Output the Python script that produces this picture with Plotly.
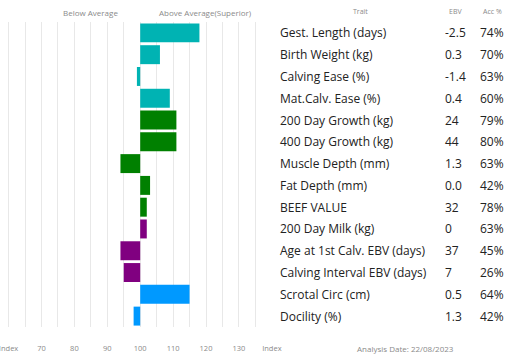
import plotly.graph_objects as go

traits = ["Gest. Length (days)", "Birth Weight (kg)", "Calving Ease (%)", "Mat.Calv. Ease (%)",
          "200 Day Growth (kg)", "400 Day Growth (kg)", "Muscle Depth (mm)", "Fat Depth (mm)",
          "BEEF VALUE", "200 Day Milk (kg)", "Age at 1st Calv. EBV (days)",
          "Calving Interval EBV (days)", "Scrotal Circ (cm)", "Docility (%)"]
ebv = ["-2.5", "0.3", "-1.4", "0.4", "24", "44", "1.3", "0.0", "32", "0", "37", "7", "0.5", "1.3"]
acc = ["74%", "70%", "63%", "60%", "79%", "80%", "63%", "42%", "78%", "63%", "45%", "26%", "64%", "42%"]
index_values = [118, 106, 99, 109, 111, 111, 94, 103, 102, 102, 94, 95, 115, 98]
bar_colors = ["#00B3B3"] * 4 + ["#008000"] * 5 + ["#800080"] * 3 + ["#0099FF"] * 2
tick_vals = list(range(60, 141, 5))
tick_text = ["Index" if v in (60, 140) else (str(v) if v % 10 == 0 else "") for v in tick_vals]

W, H = 528, 362
T, B = 22, 35
fig = go.Figure()
fig.add_trace(go.Bar(
    y=traits, x=[v - 100 for v in index_values], base=100, orientation="h",
    marker=dict(color=bar_colors, line=dict(width=0)), hoverinfo="skip"))

fig.update_layout(
    width=W, height=H, margin=dict(l=0, r=0, t=T, b=B, autoexpand=False),
    paper_bgcolor="white", plot_bgcolor="white", showlegend=False, bargap=0.13,
    xaxis=dict(domain=[0, 272 / W], range=[57.4, 140.05], tickvals=tick_vals, ticktext=tick_text,
               showgrid=True, gridcolor="#e8e8e8", gridwidth=1, zeroline=False,
               ticks="outside", ticklen=14, tickcolor="rgba(0,0,0,0)",
               ticklabeloverflow="allow", automargin=False,
               tickfont=dict(family="Open Sans", size=7.5, color="#8a8a8a"), showline=False),
    yaxis=dict(categoryorder="array", categoryarray=traits, autorange="reversed",
               showticklabels=False, showgrid=False, zeroline=False, ticks="", automargin=False),
    font=dict(family="Open Sans"),
)

anns = []
hdr = dict(family="Open Sans", size=8, color="#8a8a8a")
def py(pix):
    return (H - B - pix) / (H - T - B)

def hann(text, xp, ypix, font):
    return dict(text=text, x=xp / W, y=py(ypix), xref="paper", yref="paper", showarrow=False,
                xanchor="center", yanchor="middle", font=font)

anns.append(hann("Below Average", 90, 13, hdr))
anns.append(hann("Above Average(Superior)", 205, 13, hdr))
small = dict(family="Open Sans", size=7, color="#8a8a8a")
anns.append(hann("Trait", 360, 12, small))
anns.append(hann("EBV", 455, 12, small))
anns.append(hann("Acc %", 492, 12, small))
anns.append(hann("Analysis Date: 22/08/2023", 405, 348, hdr))

rowfont = dict(family="Open Sans", size=12, color="#222222")
for i, t in enumerate(traits):
    anns.append(dict(text=t, x=277.5 / W, y=t, xref="paper", yref="y", xanchor="left",
                     yanchor="middle", showarrow=False, font=rowfont))
    anns.append(dict(text=ebv[i], x=443 / W, y=t, xref="paper", yref="y", xanchor="left",
                     yanchor="middle", showarrow=False, font=rowfont))
    anns.append(dict(text=acc[i], x=478 / W, y=t, xref="paper", yref="y", xanchor="left",
                     yanchor="middle", showarrow=False, font=rowfont))
fig.update_layout(annotations=anns)

fig.write_html("out.html", config={"displayModeBar": False},
               post_script="document.body.style.margin='0';document.body.style.overflow='hidden';")
